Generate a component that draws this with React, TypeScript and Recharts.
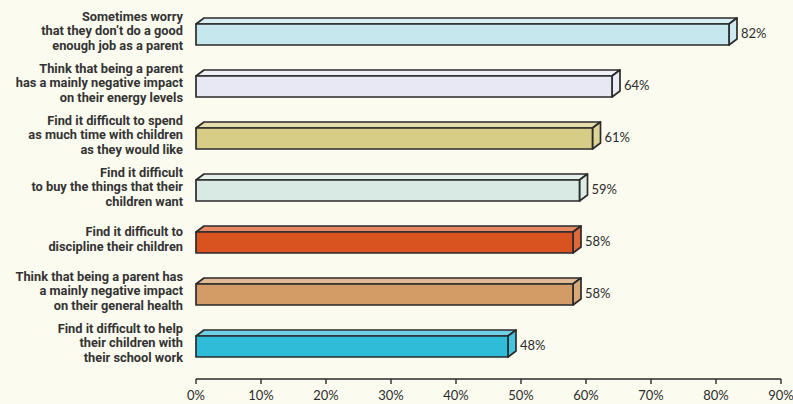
import React from "react";
import { BarChart, Bar, XAxis, YAxis, LabelList } from "recharts";

const statements = [
  "Sometimes worry\nthat they don\u2019t do a good\nenough job as a parent",
  "Think that being a parent\nhas a mainly negative impact\non their energy levels",
  "Find it difficult to spend\nas much time with children\nas they would like",
  "Find it difficult\nto buy the things that their\nchildren want",
  "Find it difficult to\ndiscipline their children",
  "Think that being a parent has\na mainly negative impact\non their general health",
  "Find it difficult to help\ntheir children with\ntheir school work",
];
const shares = [82, 64, 61, 59, 58, 58, 48];
const barColors = ["#c7e7ee", "#e8e8f4", "#d8cd86", "#d8eae3", "#d8531f", "#d39c67", "#2ebcd8"];
const pctTicks = [0, 10, 20, 30, 40, 50, 60, 70, 80, 90];

const rows = statements.map((label, i) => ({ label, value: shares[i], color: barColors[i] }));

const INK = "#2b2b2b";
const DEPTH_X = 8;
const DEPTH_Y = -6;
const HAND_FONT = "Lato, 'Open Sans', sans-serif";

// lighten a hex colour toward white
function tint(hex: string, amt: number) {
  const n = parseInt(hex.slice(1), 16);
  const mix = (c: number) => Math.round(c + (255 - c) * amt);
  const r = mix((n >> 16) & 255);
  const g = mix((n >> 8) & 255);
  const b = mix(n & 255);
  return `rgb(${r},${g},${b})`;
}

// 3D box bar: front face, top face and right side
function BoxBar(props: any) {
  const { x, y, width, height, payload } = props;
  const c = payload.color;
  const dx = DEPTH_X;
  const dy = DEPTH_Y;
  const top = `${x},${y} ${x + dx},${y + dy} ${x + width + dx},${y + dy} ${x + width},${y}`;
  const side = `${x + width},${y} ${x + width + dx},${y + dy} ${x + width + dx},${y + height + dy} ${x + width},${y + height}`;
  return (
    <g stroke={INK} strokeWidth={1.7} strokeLinejoin="round">
      <polygon points={top} fill={tint(c, 0.3)} />
      <polygon points={side} fill={tint(c, 0.12)} />
      <rect x={x} y={y} width={width} height={height} fill={c} />
    </g>
  );
}

function StatementTick(props: any) {
  const { x, y, payload } = props;
  const lines: string[] = String(payload.value).split("\n");
  const lh = 14.5;
  const start = y - 3 - ((lines.length - 1) * lh) / 2;
  return (
    <text
      x={x}
      textAnchor="end"
      fill="#333333"
      fontFamily="Roboto, sans-serif"
      fontWeight={700}
      fontSize={12.8}
    >
      {lines.map((ln, i) => (
        <tspan key={i} x={x} y={start + i * lh} dy="0.35em">
          {ln}
        </tspan>
      ))}
    </text>
  );
}

function ValueLabel(props: any) {
  const { x, y, width, height, value } = props;
  return (
    <text
      x={x + width + DEPTH_X + 4}
      y={y + height / 2 - 1}
      dy="0.35em"
      fill={INK}
      fontFamily={HAND_FONT}
      fontSize={13}
    >
      {`${value}%`}
    </text>
  );
}

export default function App() {
  return (
    <div style={{ position: "absolute", left: 0, top: 0, width: 793, height: 404, background: "#fcfbf0" }}>
      <BarChart
        width={793}
        height={404}
        data={rows}
        layout="vertical"
        margin={{ top: 8, right: 12, bottom: 0, left: 0 }}
        barCategoryGap={0}
      >
        <XAxis
          type="number"
          domain={[0, 90]}
          ticks={pctTicks}
          height={25}
          tickFormatter={(v: number) => `${v}%`}
          axisLine={{ stroke: INK, strokeWidth: 1.6 }}
          tickLine={{ stroke: INK, strokeWidth: 1.4 }}
          tickSize={5}
          tickMargin={7}
          tick={{ fill: INK, fontSize: 13, fontFamily: HAND_FONT }}
          interval={0}
        />
        <YAxis
          type="category"
          dataKey="label"
          width={196}
          axisLine={false}
          tickLine={false}
          tickSize={6}
          tickMargin={7}
          padding={{ top: 0, bottom: 7 }}
          tick={<StatementTick />}
          interval={0}
        />
        <Bar dataKey="value" barSize={21} shape={<BoxBar />} isAnimationActive={false}>
          <LabelList dataKey="value" content={<ValueLabel />} />
        </Bar>
      </BarChart>
    </div>
  );
}
